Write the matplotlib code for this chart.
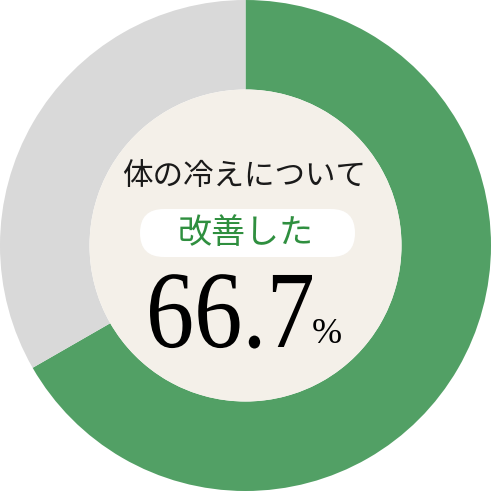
import numpy as np
import matplotlib
matplotlib.use('Agg')
import matplotlib.pyplot as plt
from matplotlib.patches import Circle, FancyBboxPatch, PathPatch
from matplotlib.textpath import TextPath
from matplotlib.font_manager import FontProperties
from matplotlib.transforms import Affine2D

# Data
labels = ['改善した', 'その他']
values = [66.7, 33.3]
colors = ['#52a065', '#d9d9d9']
title_text = '体の冷えについて'
value_text = '66.7'

jp_font = ['Noto Sans CJK JP', 'DejaVu Sans']

fig = plt.figure(figsize = (4.91, 4.91), dpi = 100)
ax = fig.add_axes([0, 0, 1, 1])
ax.set_xlim(0, 491)
ax.set_ylim(0, 491)
ax.set_aspect('equal')
ax.axis('off')

cx, cy = 245.5, 245.5
r_out, r_in = 245.5, 156

ax.pie(
    values,
    colors = colors,
    startangle = 90,
    counterclock = False,
    radius = r_out,
    center = (cx, cy),
    wedgeprops = dict(width = r_out - r_in, linewidth = 0)
)
ax.set_xlim(0, 491)
ax.set_ylim(0, 491)

# Inner disc
ax.add_patch(Circle((cx, cy), r_in, facecolor = '#f4f0e9', edgecolor = 'none', zorder = 3))

# Pill behind the label
ax.add_patch(FancyBboxPatch(
    (140, 234), 215, 48,
    boxstyle = 'round,pad=0,rounding_size=24',
    facecolor = 'white', edgecolor = 'none', zorder = 4
))

ax.text(244, 315, title_text, ha = 'center', va = 'center', fontsize = 22,
        family = jp_font, color = '#1a1a1a', zorder = 5)
ax.text(246, 258, labels[0], ha = 'center', va = 'center', fontsize = 24.5,
        family = jp_font, color = '#2f8f3f', zorder = 5)

# Big number, narrowed serif
tp = TextPath((0, 0), value_text, size = 110, prop = FontProperties(family = 'Liberation Serif'))
ext = tp.get_extents()
sx = 162 / ext.width
trans = Affine2D().translate(-ext.x0, 0).scale(sx, 1).translate(150, 144) + ax.transData
ax.add_patch(PathPatch(tp, facecolor = 'black', edgecolor = 'none', transform = trans, zorder = 5))

ax.text(312, 148, '%', ha = 'left', va = 'baseline', fontsize = 26,
        family = 'Liberation Serif', color = 'black', zorder = 5)

fig.savefig('out.png', dpi = 100)
